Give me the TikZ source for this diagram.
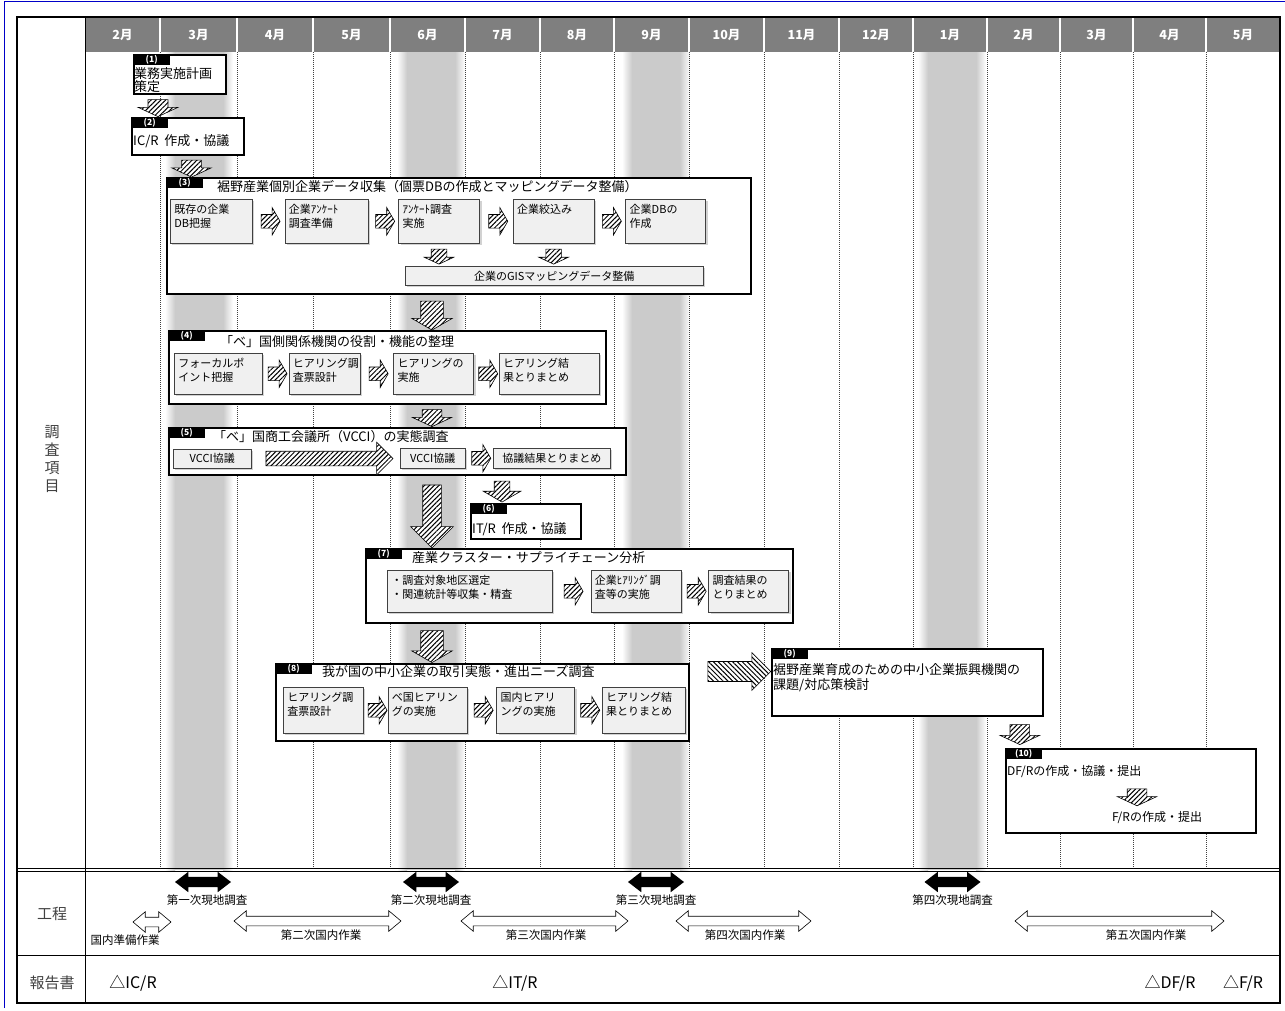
\documentclass[tikz,border=0pt]{standalone}
\usepackage{fontspec}
\setmainfont{Noto Sans CJK JP}
\usepackage{xcolor}
\usepackage{tikz}
\usetikzlibrary{
  positioning, arrows.meta, shapes.arrows, calc,
  shadows, patterns.meta, backgrounds
}
\definecolor{schgray}{HTML}{7F7F7F}
\definecolor{schband}{HTML}{CBCBCB}
\definecolor{schsub}{HTML}{F0F0F0}
\definecolor{schtext}{HTML}{404040}
\definecolor{schblue}{HTML}{0000C8}

\begin{document}
\begin{tikzpicture}[
  x=1pt, y=-1pt,
  blk/.style={draw, line width=1.6pt, fill=white, anchor=north west, inner sep=0pt},
  tag/.style={fill=black, text=white, anchor=north west, inner sep=0pt,
    minimum width=37pt, minimum height=11pt, font=\fontsize{8.5}{9}\selectfont\bfseries},
  ttl/.style={anchor=west, inner sep=0pt, font=\fontsize{13}{15}\selectfont},
  subbox/.style={draw=black!75, line width=0.6pt, fill=schsub,
    drop shadow={shadow xshift=2pt, shadow yshift=-2pt, fill=black!35}},
  sub/.style={subbox, anchor=north west, align=left, inner xsep=4pt, inner ysep=5pt,
    text height=9pt, font=\fontsize{11}{14}\selectfont},
  bar/.style={subbox, anchor=north west, inner sep=0pt, font=\fontsize{11}{12}\selectfont},
  hatch/.style={draw, line width=0.6pt, preaction={fill=white},
    pattern={Lines[angle=45, distance=3.4pt, line width=1pt]}},
  arrbase/.style={single arrow, inner xsep=0pt, single arrow head indent=0pt},
  darr/.style={arrbase, hatch, rotate=-90, minimum height=17pt, inner ysep=9.5pt,
    single arrow head extend=10pt, single arrow tip angle=130},
  darrm/.style={arrbase, hatch, rotate=-90, minimum height=30pt, inner ysep=11pt,
    single arrow head extend=9pt, single arrow tip angle=120},
  darrl/.style={arrbase, hatch, rotate=-90, minimum height=63pt, inner ysep=9pt,
    single arrow head extend=12pt, single arrow tip angle=90},
  rarr/.style={arrbase, hatch, minimum height=19pt, inner ysep=6.5pt,
    single arrow head extend=7pt, single arrow tip angle=120},
  rarrv/.style={arrbase, hatch, minimum height=127pt, inner ysep=7pt,
    single arrow head extend=9pt, single arrow tip angle=90},
  rarrb/.style={arrbase, hatch, pattern={Lines[angle=-45, distance=3.4pt, line width=1pt]},
    minimum height=63pt, inner ysep=9.5pt, single arrow head extend=9pt,
    single arrow tip angle=90},
  fld/.style={double arrow, fill=black, inner xsep=0pt, inner ysep=5pt,
    minimum height=56pt, double arrow head extend=5pt, double arrow tip angle=75,
    double arrow head indent=0pt},
  dom/.style={double arrow, draw, line width=0.6pt, fill=white, inner xsep=0pt,
    inner ysep=4.5pt, double arrow head extend=5.5pt, double arrow tip angle=80,
    double arrow head indent=0pt},
  lbl/.style={inner sep=1pt, font=\fontsize{11.5}{13}\selectfont},
  rpt/.style={inner sep=0pt, font=\fontsize{16}{18}\selectfont},
  side/.style={text=schtext, align=center, font=\fontsize{15}{18}\selectfont},
  mon/.style={text=white, font=\fontsize{12.5}{14}\selectfont\bfseries},
  coldiv/.style={black!75, line width=0.5pt, dash pattern=on 1pt off 1pt},
]
\useasboundingbox (0,0) rectangle (1285,1011);

% Field survey bands
\foreach \c in {199,431,656,952} {
  \shade[left color=white, right color=schband] (\c-34,52) rectangle (\c-24,870);
  \fill[schband] (\c-24,52) rectangle (\c+24,870);
  \shade[left color=schband, right color=white] (\c+24,52) rectangle (\c+34,870);
}

% Month header and column lines
\fill[schgray] (85,17) rectangle (1280,52);
\foreach \a/\b/\m in {85/160/2, 160/237/3, 237/313/4, 313/390/5, 390/465/6,
    465/540/7, 540/614/8, 614/689/9, 689/764/10, 764/839/11, 839/913/12,
    913/987/1, 987/1060/2, 1060/1133/3, 1133/1206/4, 1206/1280/5} {
  \node[mon] at ({(\a+\b)/2},35) {\m{}月};
}
\foreach \b in {160,237,313,390,465,540,614,689,764,839,913,987,1060,1133,1206} {
  \draw[white, line width=1.2pt] (\b,17) -- (\b,52);
  \draw[coldiv] (\b,52) -- (\b,868);
}

% Frame and row heads
\draw[schblue, line width=1pt] (4,1008) -- (4,2) -- (1285,2);
\draw[line width=1.8pt] (17,17) rectangle (1280,1003);
\draw[line width=1pt] (85,17) -- (85,1003);
\draw[line width=0.8pt] (17,868) -- (1280,868);
\draw[line width=0.8pt] (17,871.5) -- (1280,871.5);
\draw[line width=0.8pt] (17,955) -- (1280,955);
\node[side] (h1) at (52,459) {調\\査\\項\\目};
\node[side] (h2) at (52,914) {工程};
\node[side] (h3) at (52,983) {報告書};

% (1) (2)
\node[blk, minimum width=92pt, minimum height=39pt] (b1) at (133,54) {};
\node[tag] (t1) at (b1.north west) {(1)};
\node[anchor=north west, inner sep=0pt, align=left, font=\fontsize{13}{11}\selectfont]
  (x1) at (134,67) {業務実施計画\\策定};
\node[blk, minimum width=112pt, minimum height=37pt] (b2) at (131,117) {};
\node[tag] (t2) at (b2.north west) {(2)};
\node[ttl] (x2) at (133,141) {IC/R\ \ 作成・協議};

% (3)
\node[blk, minimum width=584pt, minimum height=116pt] (b3) at (166,177) {};
\node[tag] (t3) at (b3.north west) {(3)};
\node[ttl] (x3) at (217,187) {裾野産業個別企業データ収集（個票DBの作成とマッピングデータ整備）};
\node[sub, text width=74pt, text depth=25pt] (s31) at (170,199) {既存の企業\\DB把握};
\node[sub, text width=75pt, text depth=25pt, right=32pt of s31] (s32) {企業ｱﾝｹｰﾄ\\調査準備};
\node[sub, text width=73pt, text depth=25pt, right=30pt of s32] (s33) {ｱﾝｹｰﾄ調査\\実施};
\node[sub, text width=73pt, text depth=25pt, right=33pt of s33] (s34) {企業絞込み};
\node[sub, text width=72pt, text depth=25pt, right=31pt of s34] (s35) {企業DBの\\作成};
\node[bar, minimum width=298pt, minimum height=19pt] (gis) at (405,266) {企業のGISマッピングデータ整備};

% (4)
\node[blk, minimum width=437pt, minimum height=73pt] (b4) at (168,330) {};
\node[tag] (t4) at (b4.north west) {(4)};
\node[ttl] (x4) at (220,342) {「ベ」国側関係機関の役割・機能の整理};
\node[sub, text width=80pt, text depth=22pt] (s41) at (174,353) {フォーカルポ\\イント把握};
\node[sub, text width=63pt, text depth=22pt, right=26pt of s41] (s42) {ヒアリング調\\査票設計};
\node[sub, text width=72pt, text depth=22pt, right=33pt of s42] (s43) {ヒアリングの\\実施};
\node[sub, text width=92pt, text depth=22pt, right=25pt of s43] (s44) {ヒアリング結\\果とりまとめ};

% (5)
\node[blk, minimum width=457pt, minimum height=47pt] (b5) at (168,427) {};
\node[tag] (t5) at (b5.north west) {(5)};
\node[ttl] (x5) at (213,437) {「ベ」国商工会議所（VCCI）の実態調査};
\node[bar, minimum width=78pt, minimum height=19pt] (v1) at (173,449) {VCCI協議};
\node[bar, minimum width=65pt, minimum height=20pt] (v2) at (400,448) {VCCI協議};
\node[bar, minimum width=117pt, minimum height=20pt] (v3) at (493,448) {協議結果とりまとめ};

% (6)
\node[blk, minimum width=110pt, minimum height=35pt] (b6) at (470,503) {};
\node[tag] (t6) at (b6.north west) {(6)};
\node[ttl] (x6) at (472,529) {IT/R\ \ 作成・協議};

% (7)
\node[blk, minimum width=427pt, minimum height=74pt] (b7) at (365,548) {};
\node[tag] (t7) at (b7.north west) {(7)};
\node[ttl] (x7) at (412,558) {産業クラスター・サプライチェーン分析};
\node[sub, text width=157pt, text depth=23pt] (s71) at (387,570) {・調査対象地区選定\\・関連統計等収集・精査};
\node[sub, text width=82pt, text depth=23pt, right=38pt of s71] (s72) {企業ﾋｱﾘﾝｸﾞ調\\査等の実施};
\node[sub, text width=72pt, text depth=23pt, right=27pt of s72] (s73) {調査結果の\\とりまとめ};

% (8)
\node[blk, minimum width=413pt, minimum height=77pt] (b8) at (275,663) {};
\node[tag] (t8) at (b8.north west) {(8)};
\node[ttl] (x8) at (322,672) {我が国の中小企業の取引実態・進出ニーズ調査};
\node[sub, text width=72pt, text depth=27pt] (s81) at (283,687) {ヒアリング調\\査票設計};
\node[sub, text width=71pt, text depth=27pt, right=24pt of s81] (s82) {ベ国ヒアリン\\グの実施};
\node[sub, text width=70pt, text depth=27pt, right=29pt of s82] (s83) {国内ヒアリ\\ングの実施};
\node[sub, text width=75pt, text depth=27pt, right=27pt of s83] (s84) {ヒアリング結\\果とりまとめ};

% (9) (10)
\node[blk, minimum width=271pt, minimum height=67pt] (b9) at (771,648) {};
\node[tag] (t9) at (b9.north west) {(9)};
\node[anchor=north west, inner sep=0pt, align=left, font=\fontsize{13}{15}\selectfont]
  (x9) at (773,663) {裾野産業育成のための中小企業振興機関の\\課題/対応策検討};
\node[blk, minimum width=250pt, minimum height=84pt] (b10) at (1005,748) {};
\node[tag] (t10) at (b10.north west) {(10)};
\node[anchor=west, inner sep=0pt, font=\fontsize{12}{14}\selectfont] (x10a) at (1007,772) {DF/Rの作成・協議・提出};
\node[inner sep=0pt, font=\fontsize{12}{14}\selectfont] (x10b) at (1157,818) {F/Rの作成・提出};

% Connectors between blocks
\coordinate (jun) at (432,0);
\node[darr] (a12) at ($(b1.south west)!0.5!(b2.north west)+(26,0)$) {};
\node[darr] (a23) at ($(b2.south west)!0.5!(b3.north west)+(43,0)$) {};
\node[darrm, minimum height=29pt] (a34) at ($(b3.south -| jun)!0.5!(b4.north -| jun)$) {};
\node[darr] (a45) at ($(b4.south -| jun)!0.5!(b5.north -| jun)$) {};
\node[darrl] (a57) at ($(b5.south -| jun)!0.5!(b7.north -| jun)$) {};
\node[darr, minimum height=21pt, inner ysep=7.5pt, single arrow head extend=11pt,
  single arrow tip angle=120] (a56) at ($(b5.south -| b6.west)!0.5!(b6.north west)+(32,0)$) {};
\node[darrm, minimum height=32pt] (a78) at ($(b7.south -| jun)!0.5!(b8.north -| jun)$) {};
\node[rarrb] (a89) at ($(b8.north east)!0.5!(b9.north west)+(4,16)$) {};
\node[darr, minimum height=20pt] (a910) at ($(b9.south east)!0.5!(b10.north west)+(-4.5,0)$) {};
\node[darr] (a10) at ($(x10a.south -| x10b.north)!0.5!(x10b.north)+(-20,0)$) {};

% Connectors inside blocks
\node[rarr] (r31) at ($(s31.east)!0.5!(s32.west)$) {};
\node[rarr] (r32) at ($(s32.east)!0.5!(s33.west)$) {};
\node[rarr] (r33) at ($(s33.east)!0.5!(s34.west)$) {};
\node[rarr] (r34) at ($(s34.east)!0.5!(s35.west)$) {};
\node[darr, minimum height=15pt, inner ysep=7.5pt, single arrow head extend=7pt]
  (g1) at ($(s33.south)!0.5!(s33.south |- gis.north)$) {};
\node[darr, minimum height=15pt, inner ysep=7.5pt, single arrow head extend=7pt]
  (g2) at ($(s34.south)!0.5!(s34.south |- gis.north)$) {};
\node[rarr] (r41) at ($(s41.east)!0.5!(s42.west)$) {};
\node[rarr] (r42) at ($(s42.east)!0.5!(s43.west)$) {};
\node[rarr] (r43) at ($(s43.east)!0.5!(s44.west)$) {};
\node[rarrv] (r51) at ($(v1.east)!0.5!(v2.west)$) {};
\node[rarr] (r52) at ($(v2.east)!0.5!(v3.west)$) {};
\node[rarr] (r71) at ($(s71.east)!0.5!(s72.west)$) {};
\node[rarr] (r72) at ($(s72.east)!0.5!(s73.west)$) {};
\node[rarr] (r81) at ($(s81.east)!0.5!(s82.west)$) {};
\node[rarr] (r82) at ($(s82.east)!0.5!(s83.west)$) {};
\node[rarr] (r83) at ($(s83.east)!0.5!(s84.west)$) {};

% Schedule row
\node[fld] (f1) at (203,882) {};
\node[fld] (f2) at (431,882) {};
\node[fld] (f3) at (656,882) {};
\node[fld] (f4) at (952.5,882) {};
\node[lbl, below=6pt of f1, xshift=4pt] (f1l) {第一次現地調査};
\node[lbl, below=6pt of f2] (f2l) {第二次現地調査};
\node[lbl, below=6pt of f3] (f3l) {第三次現地調査};
\node[lbl, below=6pt of f4] (f4l) {第四次現地調査};
\node[dom, minimum height=38pt] (d1) at (152,922) {};
\node[dom, minimum height=167pt] (d2) at (317.5,921) {};
\node[dom, minimum height=167pt] (d3) at (544.5,921) {};
\node[dom, minimum height=135pt] (d4) at (743.5,921) {};
\node[dom, minimum height=209pt] (d5) at (1119.5,921) {};
\node[lbl, below=6pt of d1, xshift=-27pt] (d1l) {国内準備作業};
\node[lbl, below=2pt of d2, xshift=3.5pt] (d2l) {第二次国内作業};
\node[lbl, below=2pt of d3, xshift=1.5pt] (d3l) {第三次国内作業};
\node[lbl, below=2pt of d4, xshift=1.5pt] (d4l) {第四次国内作業};
\node[lbl, below=2pt of d5, xshift=26.5pt] (d5l) {第五次国内作業};

% Reports
\node[rpt] (p1) at (133,983) {△IC/R};
\node[rpt] (p2) at (515,983) {△IT/R};
\node[rpt] (p3) at (1170,983) {△DF/R};
\node[rpt] (p4) at (1243,983) {△F/R};
\end{tikzpicture}
\end{document}
